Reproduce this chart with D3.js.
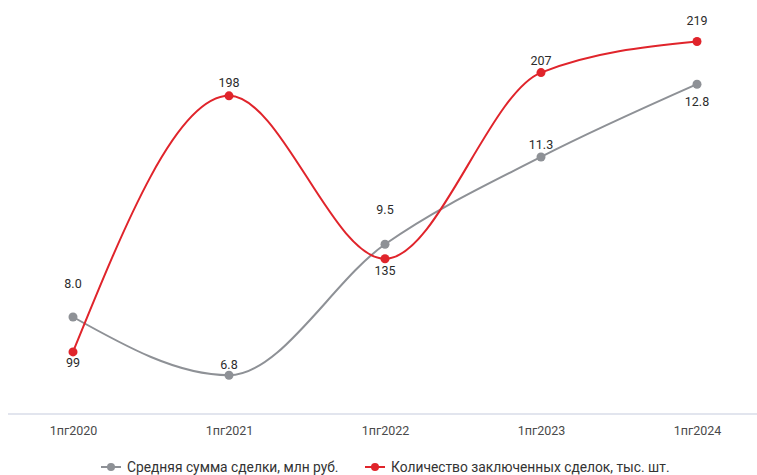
<!DOCTYPE html>
<html>
<head>
<meta charset="utf-8">
<script src="https://cdn.jsdelivr.net/npm/d3@7"></script>
<style>
  html, body { margin: 0; padding: 0; background: #fff; }
  svg { display: block; font-family: Roboto, "Noto Sans", sans-serif; }
</style>
</head>
<body>
<svg id="chart" width="757" height="475"></svg>
<script>
const categories = ["1пг2020", "1пг2021", "1пг2022", "1пг2023", "1пг2024"];
const avgDeal = [8.0, 6.8, 9.5, 11.3, 12.8];
const dealCount = [99, 198, 135, 207, 219];
const seriesNames = ["Средняя сумма сделки, млн руб.", "Количество заключенных сделок, тыс. шт."];

const grayColor = "#8e9196";
const redColor = "#e0242b";

const svg = d3.select("#chart");
const W = 757, H = 475;
const plotTop = 26, plotBottom = 414;

const x = d3.scalePoint().domain(categories).range([73, 697]);
const yGray = d3.scaleLinear().domain([6, 14]).range([plotBottom, plotTop]);
const yRed = d3.scaleLinear().domain([75, 225]).range([plotBottom, plotTop]);

// baseline
svg.append("line")
  .attr("x1", 8).attr("x2", W).attr("y1", plotBottom).attr("y2", plotBottom)
  .attr("stroke", "#d9dde9").attr("stroke-width", 1.5);

// x axis labels
const xAxis = d3.axisBottom(x).tickSize(0).tickPadding(12);
const gx = svg.append("g").attr("transform", `translate(0,${plotBottom})`).call(xAxis);
gx.select(".domain").remove();
gx.selectAll("text").attr("font-size", 12.5).attr("fill", "#4a4a4a")
  .attr("font-family", "Roboto, sans-serif");

const line = (yS) => d3.line().x((d, i) => x(categories[i])).y(d => yS(d)).curve(d3.curveMonotoneX);

// gray series
svg.append("path").datum(avgDeal).attr("d", line(yGray))
  .attr("fill", "none").attr("stroke", grayColor).attr("stroke-width", 2);
// red series
svg.append("path").datum(dealCount).attr("d", line(yRed))
  .attr("fill", "none").attr("stroke", redColor).attr("stroke-width", 2);

svg.append("g").selectAll("circle").data(avgDeal).join("circle")
  .attr("cx", (d, i) => x(categories[i])).attr("cy", d => yGray(d)).attr("r", 4.5)
  .attr("fill", grayColor);
svg.append("g").selectAll("circle").data(dealCount).join("circle")
  .attr("cx", (d, i) => x(categories[i])).attr("cy", d => yRed(d)).attr("r", 4.5)
  .attr("fill", redColor);

// label offsets (style)
const grayLabelDy = [-34, -11, -35, -12, 17];
const redLabelDy = [11, -13, 12, -12, -21];

svg.append("g").selectAll("text").data(avgDeal).join("text")
  .attr("x", (d, i) => x(categories[i])).attr("y", (d, i) => yGray(d) + grayLabelDy[i])
  .attr("text-anchor", "middle").attr("dominant-baseline", "central")
  .attr("font-size", 12.5).attr("fill", "#2b2b2b")
  .text(d => d.toFixed(1));
svg.append("g").selectAll("text").data(dealCount).join("text")
  .attr("x", (d, i) => x(categories[i])).attr("y", (d, i) => yRed(d) + redLabelDy[i])
  .attr("text-anchor", "middle").attr("dominant-baseline", "central")
  .attr("font-size", 12.5).attr("fill", "#2b2b2b")
  .text(d => d);

// legend
const legend = [
  { name: seriesNames[0], color: grayColor, x: 101 },
  { name: seriesNames[1], color: redColor, x: 365 }
];
const lg = svg.append("g").selectAll("g").data(legend).join("g")
  .attr("transform", d => `translate(${d.x},467)`);
lg.append("line").attr("x1", 0).attr("x2", 20).attr("y1", 0).attr("y2", 0)
  .attr("stroke", d => d.color).attr("stroke-width", 2);
lg.append("circle").attr("cx", 10).attr("cy", 0).attr("r", 4).attr("fill", d => d.color);
lg.append("text").attr("x", 26).attr("y", 0).attr("dominant-baseline", "central")
  .attr("font-size", 13.8).attr("fill", "#333").text(d => d.name);
</script>
</body>
</html>
